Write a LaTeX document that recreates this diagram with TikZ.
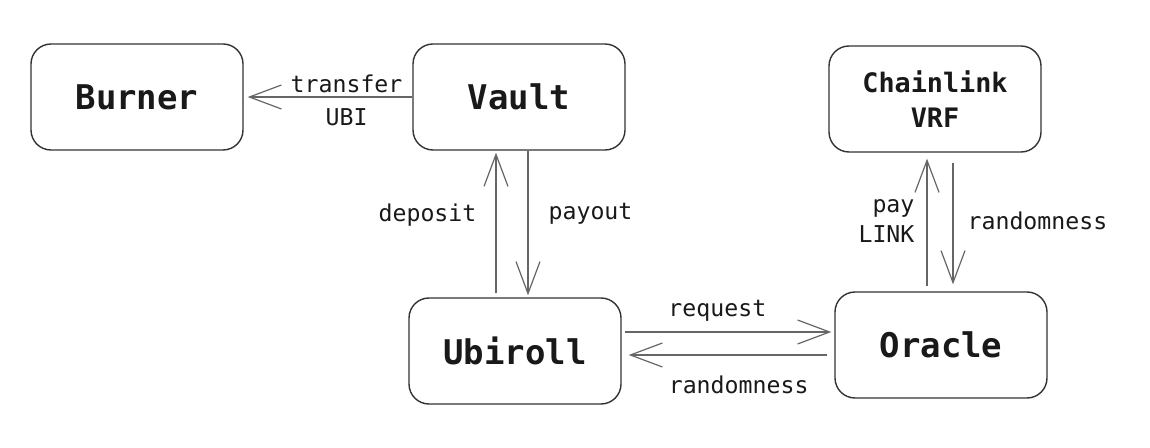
\documentclass[tikz,border=0pt]{standalone}
\usepackage{fontspec}
\setmonofont{DejaVu Sans Mono}
\usetikzlibrary{arrows.meta}

\begin{document}
\begin{tikzpicture}[x=0.5pt,y=-0.5pt]
	\tikzstyle{box}=[draw=black!80, line width=0.7pt, rounded corners=10pt, minimum width=106pt, minimum height=53pt, inner sep=0pt, align=center, text=black!90, font=\fontsize{17}{20}\selectfont\ttfamily\bfseries]
	\tikzstyle{flow}=[draw=black!60, line width=0.6pt, -{Straight Barb[length=16pt,width=12pt]}]
	\tikzstyle{lbl}=[inner sep=0pt, align=center, text=black!90, font=\fontsize{11.6}{15}\selectfont\ttfamily]
	\useasboundingbox (0,0) rectangle (1150,448);
	% contracts
	\node [box] (burner) at (137,97) {Burner};
	\node [box] (vault) at (519,97) {Vault};
	\node [box, font=\fontsize{13.4}{17.5}\selectfont\ttfamily\bfseries] (vrf) at (935,99) {Chainlink\\VRF};
	\node [box] (ubiroll) at (515,351) {Ubiroll};
	\node [box] (oracle) at (941,345) {Oracle};
	% flows
	\draw [flow, shorten >=2pt] (vault.west) -- (burner.east)
		node [lbl, pos=0.39, above=2pt] {transfer}
		node [lbl, pos=0.39, below=5.5pt] {UBI};
	\draw [flow, shorten <=2pt, shorten >=1pt] ([xshift=-9.5pt]ubiroll.north) -- ([xshift=-9.5pt]ubiroll.north |- vault.south)
		node [lbl, pos=0.56, left=9.5pt] {deposit};
	\draw [flow, shorten >=1pt] ([xshift=4.5pt]vault.south) -- ([xshift=4.5pt]vault.south |- ubiroll.north)
		node [lbl, pos=0.43, right=10pt] {payout};
	\draw [flow, shorten <=1.5pt, shorten >=1.5pt] ([yshift=9.5pt]ubiroll.east) -- ([yshift=9.5pt]ubiroll.east -| oracle.west)
		node [lbl, pos=0.45, above=5pt] {request};
	\draw [flow, shorten <=3.5pt, shorten >=3.5pt] ([yshift=-5pt]oracle.west) -- ([yshift=-5pt]oracle.west -| ubiroll.east)
		node [lbl, pos=0.45, below=10pt] {randomness};
	\draw [flow, shorten <=2.5pt, shorten >=3pt] ([xshift=-7pt]oracle.north) -- ([xshift=-7pt]oracle.north |- vrf.south)
		node [lbl, pos=0.51, left=6pt, align=right] {pay\\LINK};
	\draw [flow, shorten <=5pt, shorten >=3.5pt] ([xshift=9pt]vrf.south) -- ([xshift=9pt]vrf.south |- oracle.north)
		node [lbl, pos=0.49, right=7pt] {randomness};
\end{tikzpicture}
\end{document}
